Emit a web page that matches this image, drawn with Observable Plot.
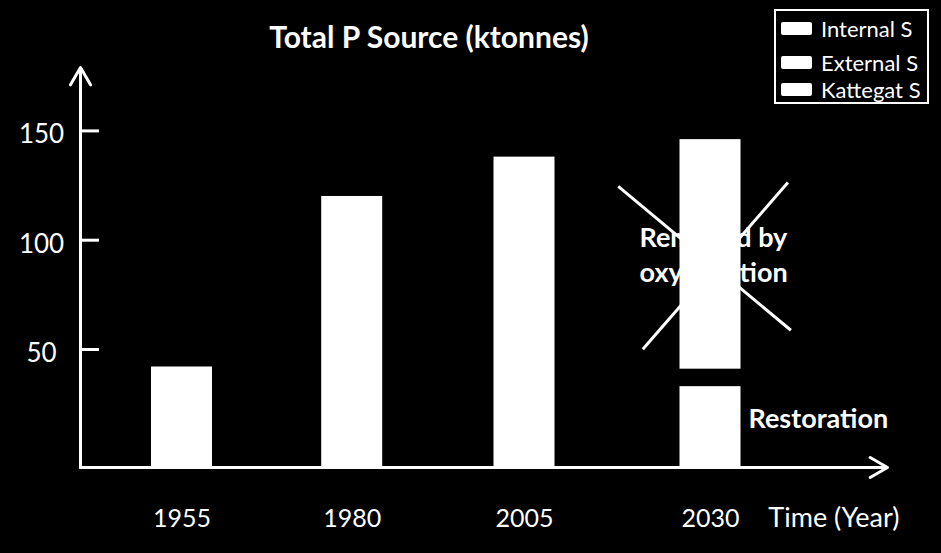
<!DOCTYPE html>
<html><head><meta charset="utf-8">
<script src="https://cdn.jsdelivr.net/npm/d3@7"></script>
<script src="https://cdn.jsdelivr.net/npm/@observablehq/plot@0.6"></script>
<style>
html,body{margin:0;padding:0;background:#000;}
#wrap{position:relative;width:941px;height:553px;background:#000;overflow:hidden;font-family:Lato,"Open Sans",sans-serif;color:#fff;}
#wrap svg{position:absolute;left:0;top:0;z-index:0;}
#title{position:absolute;z-index:1;left:0;width:858px;top:18px;text-align:center;font-weight:bold;font-size:30px;line-height:36px;}
#legend{position:absolute;z-index:1;left:774px;top:9px;width:155px;height:95px;border:2px solid #fff;box-sizing:border-box;}
.item{position:absolute;left:5px;height:24px;display:flex;align-items:center;font-size:22px;white-space:nowrap;}
.sw{width:31px;height:13px;background:#fff;border-radius:2px;margin-right:9px;}
</style></head>
<body><div id="wrap"><div id="title"></div><div id="legend"></div></div>
<script>
// ---- data ----
const years = [1955, 1980, 2005, 2030];
const xTickLabels = ["1955", "1980", "2005", "2030"];
const totalP = [42, 120, 138, 33];          // 2030 value = remaining after restoration
const removedYear = 2030;
const removedRange = [41, 146];             // part removed by oxygenation
const yTicks = [50, 100, 150];
const legendLabels = ["Internal S", "External S", "Kattegat S"];
const titleText = "Total P Source (ktonnes)";
const xAxisTitle = "Time (Year)";
const removedLabel = "Removed by\noxygenation";
const restorationLabel = "Restoration";
const restorationValue = 18;
const crossLines = [
  {x1: 2017.6, y1: 124.6, x2: 2040.9, y2: 58.8},
  {x1: 2040.5, y1: 126.4, x2: 2020.9, y2: 50.1}
];
// axis extents (in data units)
const axisStartYear = 1940, axisEndYear = 2054;
const axisBase = -4, axisTop = 179;

// ---- layout ----
document.getElementById("title").textContent = titleText;
const legend = document.getElementById("legend");
const itemTops = [5, 39, 66];
legendLabels.forEach((lab, i) => {
  const d = document.createElement("div");
  d.className = "item";
  d.style.top = itemTops[i] + "px";
  d.innerHTML = '<div class="sw"></div><span></span>';
  d.querySelector("span").textContent = lab;
  legend.appendChild(d);
});

const bars = years.map((yr, i) => ({yr, lo: axisBase, hi: totalP[i]}));
const removed = [{yr: removedYear, lo: removedRange[0], hi: removedRange[1]}];
const font = "Lato, 'Open Sans', sans-serif";

const chart = Plot.plot({
  width: 941, height: 553,
  marginLeft: 80, marginRight: 56, marginTop: 67, marginBottom: 86,
  style: {background: "black", color: "white", fontFamily: font, fontSize: "24px", overflow: "visible"},
  x: {type: "linear", domain: [axisStartYear, 1955, 1980, 2005, 2030, axisEndYear],
      range: [80, 181.5, 351.7, 524, 710, 887], axis: null},
  y: {domain: [0, 150], range: [458.3, 130.4], axis: null},
  marks: [
    Plot.link(crossLines, {x1: "x1", y1: "y1", x2: "x2", y2: "y2", stroke: "white", strokeWidth: 3}),
    Plot.text([removedLabel], {x: () => removedYear, y: () => (removedRange[0] + removedRange[1]) / 2,
      text: d => d, dx: -71, dy: -1, textAnchor: "start", fill: "white", fontWeight: "bold", fontSize: 27, lineHeight: 1.3}),
    Plot.rect(bars, {x1: "yr", x2: "yr", y1: "lo", y2: "hi", fill: "white", insetLeft: -30.5, insetRight: -30.5}),
    Plot.rect(removed, {x1: "yr", x2: "yr", y1: "lo", y2: "hi", fill: "white", insetLeft: -30.5, insetRight: -30.5}),
    Plot.arrow([
      {x1: axisStartYear, y1: axisBase, x2: axisStartYear, y2: axisTop},
      {x1: axisStartYear, y1: axisBase, x2: axisEndYear, y2: axisBase}
    ], {x1: "x1", y1: "y1", x2: "x2", y2: "y2", stroke: "white", strokeWidth: 3, headLength: 10, headAngle: 60}),
    Plot.ruleY(yTicks, {y: d => d, x1: axisStartYear, x2: axisStartYear + 2.8, stroke: "white", strokeWidth: 3}),
    Plot.text(yTicks, {y: d => d, text: d => String(d), frameAnchor: "left", dx: -39, dy: 4,
      textAnchor: "middle", fill: "white", fontSize: 26}),
    Plot.text(years, {x: d => d, text: (d, i) => xTickLabels[i], frameAnchor: "bottom", dy: 59,
      fill: "white", fontSize: 25}),
    Plot.text([xAxisTitle], {text: d => d, frameAnchor: "bottom-right", dx: 14, dy: 59,
      textAnchor: "end", fill: "white", fontSize: 27}),
    Plot.text([restorationLabel], {x: () => removedYear, y: () => restorationValue, text: d => d,
      dx: 38, textAnchor: "start", fill: "white", fontWeight: "bold", fontSize: 27})
  ]
});
document.getElementById("wrap").insertBefore(chart, document.getElementById("title"));
</script>
</body></html>
